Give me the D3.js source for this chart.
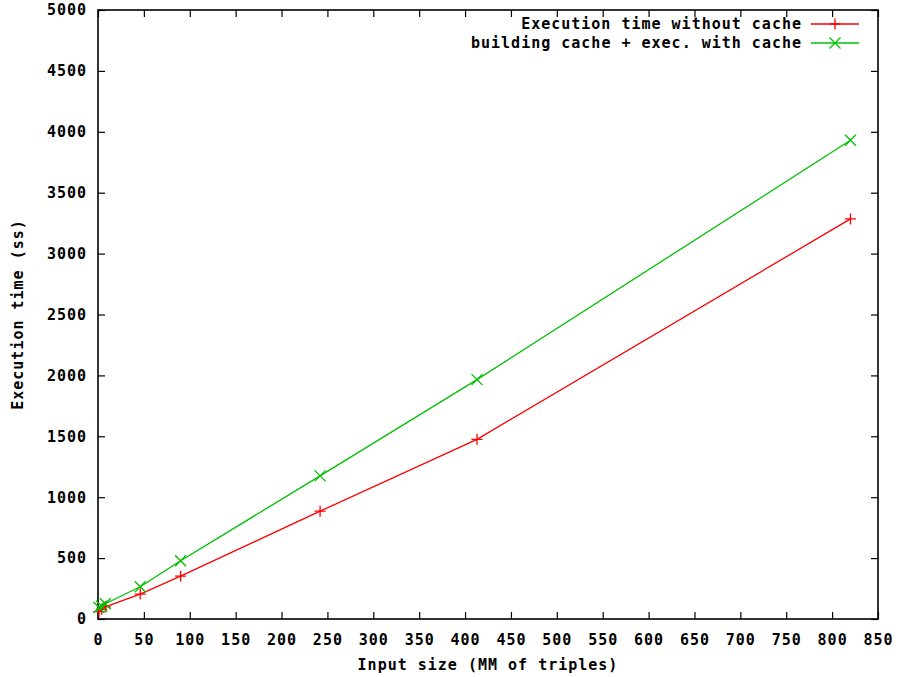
<!DOCTYPE html>
<html>
<head>
<meta charset="utf-8">
<script src="https://cdn.jsdelivr.net/npm/d3@7"></script>
<style>
  html, body { margin: 0; padding: 0; background: #fff; }
  svg text { font-family: "DejaVu Sans Mono", "Liberation Mono", monospace; font-weight: bold; font-size: 15px; letter-spacing: 1px; fill: #000; }
</style>
</head>
<body>
<svg id="chart" width="898" height="677"></svg>
<script>
// Input sizes (millions of triples) and measured times (seconds)
const inputSizes = [1, 4, 8, 46, 90, 242, 413, 820];
const timeWithoutCache = [60, 80, 100, 205, 352, 885, 1475, 3285];
const timeWithCache = [95, 105, 125, 265, 478, 1175, 1965, 3930];

const xTicks = d3.range(0, 851, 50);
const yTicks = d3.range(0, 5001, 500);

const seriesNames = ["Execution time without cache", "building cache + exec. with cache"];
const seriesColors = ["#ff0000", "#00c000"];
const seriesMarkers = ["plus", "cross"];

const margin = { left: 98, right: 20, top: 10, bottom: 58 };
const W = 898, H = 677;
const svg = d3.select("#chart");

const x = d3.scaleLinear().domain([0, 850]).range([margin.left, W - margin.right]);
const y = d3.scaleLinear().domain([0, 5000]).range([H - margin.bottom, margin.top]);

const tickLen = 7;

// Bottom axis with inward ticks
const gx = svg.append("g").attr("transform", `translate(0,${y(0)})`)
  .call(d3.axisBottom(x).tickValues(xTicks).tickSize(-tickLen).tickPadding(15).tickFormat(d3.format("d")));
// Top mirrored ticks
svg.append("g").attr("transform", `translate(0,${y(5000)})`)
  .call(d3.axisTop(x).tickValues(xTicks).tickSize(-tickLen).tickFormat(""));
// Left axis
const gy = svg.append("g").attr("transform", `translate(${x(0)},0)`)
  .call(d3.axisLeft(y).tickValues(yTicks).tickSize(-tickLen).tickPadding(12).tickFormat(d3.format("d")));
// Right mirrored ticks
svg.append("g").attr("transform", `translate(${x(850)},0)`)
  .call(d3.axisRight(y).tickValues(yTicks).tickSize(-tickLen).tickFormat(""));

svg.selectAll(".domain").remove();
svg.selectAll(".tick line").attr("stroke", "#000").attr("stroke-width", 1.2);
svg.selectAll(".tick text").attr("font-size", null).attr("font-family", null);
gx.selectAll(".tick text").attr("dy", "0.71em");
gy.selectAll(".tick text").attr("dx", "1px");

// Frame
svg.append("rect")
  .attr("x", x(0)).attr("y", y(5000))
  .attr("width", x(850) - x(0)).attr("height", y(0) - y(5000))
  .attr("fill", "none").attr("stroke", "#000").attr("stroke-width", 1.6);

// Axis titles
svg.append("text")
  .attr("x", (x(0) + x(850)) / 2).attr("y", 670)
  .attr("text-anchor", "middle")
  .text("Input size (MM of triples)");
svg.append("text")
  .attr("transform", `translate(23,${(y(0) + y(5000)) / 2}) rotate(-90)`)
  .attr("text-anchor", "middle")
  .text("Execution time (ss)");

// Marker drawing
function marker(g, kind, cx, cy, color, r) {
  const p = d3.path();
  if (kind === "plus") {
    p.moveTo(cx - r, cy); p.lineTo(cx + r, cy);
    p.moveTo(cx, cy - r); p.lineTo(cx, cy + r);
  } else {
    p.moveTo(cx - r, cy - r); p.lineTo(cx + r, cy + r);
    p.moveTo(cx - r, cy + r); p.lineTo(cx + r, cy - r);
  }
  g.append("path").attr("d", p.toString()).attr("stroke", color).attr("stroke-width", 1.3).attr("fill", "none");
}

const allSeries = [timeWithoutCache, timeWithCache];
const line = d3.line().x(d => x(d[0])).y(d => y(d[1]));

allSeries.forEach((vals, i) => {
  const pts = inputSizes.map((s, j) => [s, vals[j]]);
  const g = svg.append("g");
  g.append("path").attr("d", line(pts)).attr("fill", "none")
    .attr("stroke", seriesColors[i]).attr("stroke-width", 1.3);
  pts.forEach(p => marker(g, seriesMarkers[i], x(p[0]), y(p[1]), seriesColors[i], 5.5));
});

// Legend
seriesNames.forEach((name, i) => {
  const cy = 24 + i * 19;
  svg.append("text").attr("x", 802).attr("y", cy).attr("dy", "0.35em")
    .attr("text-anchor", "end").text(name);
  svg.append("line").attr("x1", 811).attr("x2", 859).attr("y1", cy).attr("y2", cy)
    .attr("stroke", seriesColors[i]).attr("stroke-width", 1.3);
  marker(svg, seriesMarkers[i], 835, cy, seriesColors[i], 5.5);
});
</script>
</body>
</html>
